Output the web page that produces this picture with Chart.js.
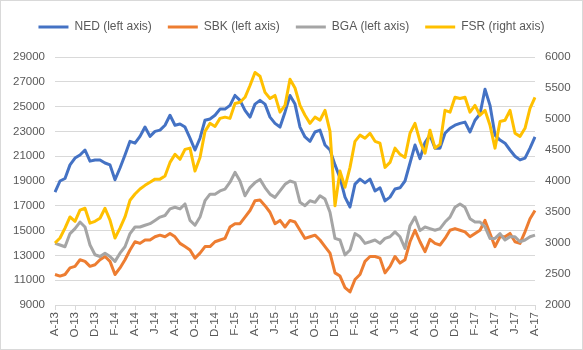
<!DOCTYPE html>
<html>
<head>
<meta charset="utf-8">
<script src="https://cdn.jsdelivr.net/npm/chart.js@4.4.1/dist/chart.umd.min.js"></script>
<style>
body { margin: 0; background: #fff; }
#wrap { width: 583px; height: 350px; box-sizing: border-box; border: 1px solid #d9d9d9; }
</style>
</head>
<body>
<div id="wrap"><canvas id="priceChart" width="581" height="348"></canvas></div>
<script>
// one value every half month, Aug 2013 .. Aug 2017
const tickLabels = ['A-13', 'O-13', 'D-13', 'F-14', 'A-14', 'J-14', 'A-14', 'O-14', 'D-14', 'F-15', 'A-15', 'J-15', 'A-15',
    'O-15', 'D-15', 'F-16', 'A-16', 'J-16', 'A-16', 'O-16', 'D-16', 'F-17', 'A-17', 'J-17', 'A-17'];

const ned = [18100, 19000, 19200, 20300, 20850, 21100, 21500, 20600, 20700, 20700, 20450, 20300, 19100, 20050, 21100, 22200,
    22050, 22600, 23350, 22600, 23000, 23100, 23500, 24300, 23500,
    23600, 23350, 22450, 21500, 22450, 23900, 24000, 24300, 24800, 24800, 25100, 25900, 25500, 24700, 24150, 25200, 25500,
    25200, 24150, 23650, 23350, 24550, 25900, 25200,
    23350, 22550, 22200, 22950, 23100, 21900, 21500, 20300, 19250, 17700, 16900, 18750, 19150, 18850, 19150, 18200, 18450,
    17400, 17700, 18350, 18450, 19000, 20450, 21900,
    20800, 22100, 22700, 21650, 21650, 22850, 23250, 23500, 23650, 23750, 22950, 23900, 24400, 26400, 25100, 22700, 22300,
    22050, 21500, 21000, 20700, 20850, 21650, 22550];

const sbk = [11460, 11330, 11460, 11990, 12120, 12650, 12520, 12120, 12250, 12650, 12910, 12520, 11460, 11990, 12650, 13440,
    14100, 13970, 14240, 14240, 14500, 14630, 14500, 14770, 14500,
    13970, 13710, 13440, 12780, 13180, 13710, 13710, 14100, 14240, 14370, 15290, 15560, 15560, 16090, 16620, 17410, 17460,
    17010, 16480, 15560, 15820, 15290, 15820, 15690,
    15030, 14370, 14500, 14630, 14240, 13710, 13180, 11590, 11330, 10400, 10050, 11060, 11460, 12520, 12910, 12910, 12780,
    11590, 12120, 12910, 12380, 12650, 14100, 15030,
    14100, 13300, 14290, 13970, 13840, 14370, 15030, 15160, 15030, 14900, 14500, 14770, 15030, 15820, 14770, 13710, 14500,
    14500, 14770, 14100, 13970, 14900, 15960, 16620];

const bga = [13970, 13840, 13700, 14760, 15160, 15690, 15290, 13840, 13050, 12910, 13180, 12910, 12520, 13180, 13700, 14760,
    15290, 15290, 15430, 15560, 15820, 16090, 16220, 16750, 16880,
    16750, 17150, 15820, 15430, 16090, 17410, 17940, 17940, 18200, 18340, 18900, 19700, 19000, 17810, 18470, 18870, 19130,
    18470, 17940, 17680, 18200, 18730, 19000, 18870,
    17280, 17010, 17410, 17280, 17810, 17540, 16480, 14370, 14240, 13040, 13440, 14760, 14500, 13970, 14100, 14240, 13970,
    14370, 14500, 14900, 14500, 13570, 15400, 16100,
    15000, 15290, 15160, 15030, 15160, 15690, 16090, 16880, 17150, 16880, 15960, 15690, 15690, 15290, 14370, 14370, 14760,
    14240, 14500, 14500, 14100, 14240, 14500, 14630];

const fsr = [3000, 3080, 3240, 3420, 3350, 3530, 3560, 3320, 3350, 3400, 3560, 3370, 3080, 3240, 3420, 3690,
    3790, 3870, 3930, 3980, 4030, 4030, 4080, 4300, 4430,
    4350, 4510, 4530, 4160, 4380, 4800, 4930, 4880, 5010, 5030, 5010, 5250, 5270, 5350, 5540, 5750, 5690,
    5430, 5330, 5380, 5110, 5220, 5640, 5500,
    5220, 5060, 4930, 5030, 4980, 5140, 4800, 3600, 4160, 3900, 4220, 4640, 4740, 4690, 4770, 4640, 4610,
    4220, 4300, 4530, 4430, 4380, 4770, 4930,
    4640, 4450, 4820, 4530, 4590, 5140, 5110, 5350, 5330, 5350, 5110, 5220, 5060, 5140, 4900, 4530, 4960,
    4980, 5140, 4770, 4720, 4850, 5170, 5350];

const periods = tickLabels.flatMap((t, i) => i < tickLabels.length - 1 ? [t, '', '', ''] : [t]);

Chart.defaults.font.family = "'Liberation Sans', Arial, sans-serif";
Chart.defaults.color = '#595959';

function series(label, data, color, axis, order) {
    return {
        label: label,
        data: data,
        borderColor: color,
        backgroundColor: color,
        borderWidth: 3,
        borderJoinStyle: 'round',
        pointRadius: 0,
        tension: 0,
        yAxisID: axis,
        order: order
    };
}

// push the plot area down a bit below the legend
const legendGap = {
    id: 'legendGap',
    beforeInit(chart) {
        const fit = chart.legend.fit;
        chart.legend.fit = function () {
            fit.bind(chart.legend)();
            this.height += 14;
        };
    }
};

const ctx = document.getElementById('priceChart').getContext('2d');
const priceChart = new Chart(ctx, {
    type: 'line',
    data: {
        labels: periods,
        datasets: [
            series('NED (left axis)', ned, '#4472C4', 'y', 4),
            series('SBK (left axis)', sbk, '#ED7D31', 'y', 3),
            series('BGA (left axis)', bga, '#A5A5A5', 'y', 2),
            series('FSR (right axis)', fsr, '#FFC000', 'y1', 1)
        ]
    },
    plugins: [legendGap],
    options: {
        responsive: false,
        animation: false,
        layout: { padding: { top: 4 } },
        plugins: {
            tooltip: { enabled: false },
            legend: {
                labels: {
                    boxWidth: 30,
                    boxHeight: 3,
                    padding: 16,
                    font: { size: 12 },
                    sort: (a, b) => a.datasetIndex - b.datasetIndex,
                    generateLabels: (chart) => Chart.defaults.plugins.legend.labels.generateLabels(chart)
                        .map(item => Object.assign(item, { lineWidth: 0 }))
                }
            }
        },
        scales: {
            x: {
                grid: {
                    drawOnChartArea: false,
                    tickLength: 5,
                    color: (c) => c.index % 4 === 0 ? '#d9d9d9' : 'rgba(0,0,0,0)'
                },
                border: { color: '#d9d9d9' },
                ticks: {
                    autoSkip: false,
                    minRotation: 90,
                    maxRotation: 90,
                    padding: 2,
                    font: { size: 11.5 },
                    callback: (v, i) => periods[i]
                },
                afterFit: (s) => { s.height = 44; }
            },
            y: {
                position: 'left',
                min: 9000,
                max: 29000,
                ticks: { stepSize: 2000, padding: 10, font: { size: 11.5 }, callback: (v) => String(v) },
                grid: { color: '#d9d9d9', drawTicks: false },
                border: { display: false },
                afterFit: (s) => { s.width = 54; }
            },
            y1: {
                position: 'right',
                min: 2000,
                max: 6000,
                ticks: { stepSize: 500, padding: 10, font: { size: 11.5 }, callback: (v) => String(v) },
                grid: { drawOnChartArea: false, drawTicks: false },
                border: { display: false },
                afterFit: (s) => { s.width = 47; }
            }
        }
    }
});
</script>
</body>
</html>
